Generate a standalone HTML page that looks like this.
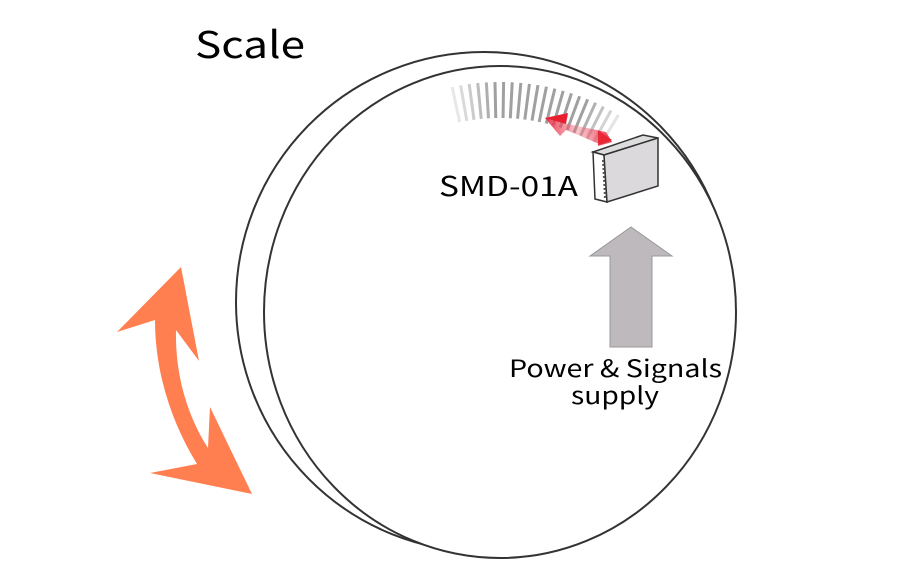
<!DOCTYPE html>
<html><head><style>
html,body{margin:0;padding:0;background:#fff;}
svg{display:block;}
text{font-family:"Noto Sans CJK JP","Liberation Sans",sans-serif;}
</style></head><body>
<svg width="902" height="576" viewBox="0 0 902 576" xmlns="http://www.w3.org/2000/svg">
<defs>
<linearGradient id="rg" x1="0" y1="0" x2="1" y2="0">
<stop offset="0" stop-color="#e8203a" stop-opacity="0.9"/>
<stop offset="0.5" stop-color="#f07080" stop-opacity="0.4"/>
<stop offset="1" stop-color="#e8203a" stop-opacity="0.9"/>
</linearGradient>
</defs>
<ellipse cx="484" cy="302" rx="248" ry="250" fill="#fff" stroke="#333" stroke-width="2"/>
<ellipse cx="500" cy="312" rx="236" ry="246" fill="#fff" stroke="#333" stroke-width="2"/>
<g id="ticks" stroke="#888" stroke-width="3">
</g>
<script>
var g=document.getElementById('ticks');
for(var i=0;i<21;i++){var a=-12+i*2.15;var r=a*Math.PI/180;
var c=Math.sin(r),s=Math.cos(r);
var l=document.createElementNS('http://www.w3.org/2000/svg','line');
l.setAttribute('x1',500+194*c);l.setAttribute('y1',312-194*s);
l.setAttribute('x2',500+230*c);l.setAttribute('y2',312-230*s);
var op=1; if(i<5)op=0.25+i*0.15; if(i>16)op=1-(i-16)*0.18;
l.setAttribute('stroke-opacity',op*0.8);g.appendChild(l);}
</script>
<polygon points="545,118 568,116 563,123 606,132 612,142 602,145 566,130 560,136" fill="url(#rg)"/>
<polygon points="545,118 568,113 566,124" fill="#e82030"/>
<polygon points="612,140 598,130 598,146" fill="#e82030" opacity="0.9"/>
<polygon points="593,152 643,135 658,138 604,155" fill="#ddd" stroke="#333" stroke-width="1.5"/>
<polygon points="593,152 604,155 607,202 595,199" fill="#fff" stroke="#333" stroke-width="1.5"/>
<polygon points="604,155 658,138 658,186 607,202" fill="#dcd9dc" stroke="#333" stroke-width="1.5"/>
<line x1="603" y1="160" x2="605" y2="198" stroke="#555" stroke-width="2" stroke-dasharray="2,2"/>
<polygon points="631,227 672,256 652,256 652,347 610,347 610,256 590,256" fill="#bdb9bd" stroke="#999" stroke-width="1"/>
<path d="M181,267 L199,361 L176,330 C175,380 190,420 208,448 L210,407 L252,494 L150,473 L197,464 C170,420 155,370 155,320 L117,332 Z" fill="#ff7f50"/>
<text x="195" y="58" font-size="37" fill="#000" textLength="110" lengthAdjust="spacingAndGlyphs">Scale</text>
<text x="439" y="196" font-size="27" fill="#000" textLength="139" lengthAdjust="spacingAndGlyphs">SMD-01A</text>
<text x="509" y="377" font-size="24" fill="#000" textLength="213" lengthAdjust="spacingAndGlyphs">Power &amp; Signals</text>
<text x="571" y="404" font-size="24" fill="#000" textLength="88" lengthAdjust="spacingAndGlyphs">supply</text>
</svg>
</body></html>
